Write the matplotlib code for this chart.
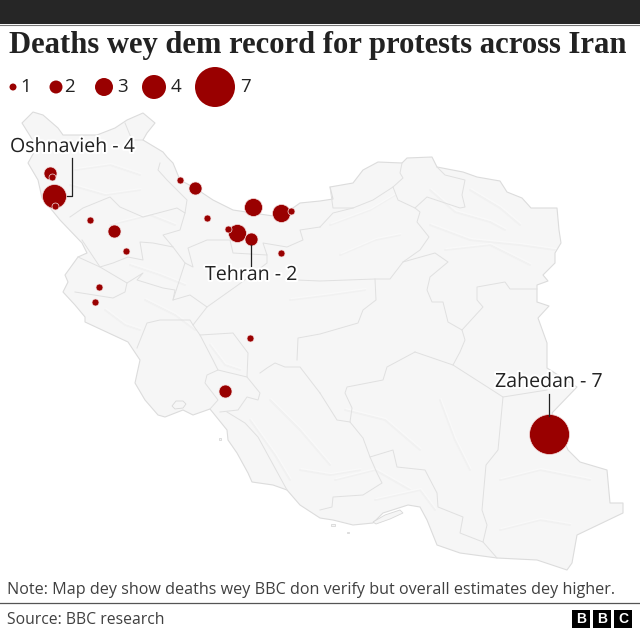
# import library
import matplotlib
matplotlib.use("Agg")
import matplotlib.pyplot as plt
import matplotlib.patheffects as pe
from matplotlib.patches import Polygon, Rectangle

# deaths by location (x, y)
town_x = [549, 54, 50, 253, 281, 237, 251, 195, 114, 225, 52, 55, 90, 126, 99, 95, 180, 291, 207, 228, 281, 250]
town_y = [434, 196, 173, 207, 213, 233, 239, 188, 231, 391, 177, 206, 220, 251, 287, 302, 180, 211, 218, 229, 253, 338]
deaths = [7, 4, 2, 3, 3, 3, 2, 2, 2, 2, 1, 1, 1, 1, 1, 1, 1, 1, 1, 1, 1, 1]

legend_values = [1, 2, 3, 4, 7]
legend_x = [13, 56, 104, 154, 215]
legend_text_x = [20, 64, 117, 171, 240]
radius = {1: 3.5, 2: 6.5, 3: 9, 4: 12, 7: 20}

# country outline
border = [(33, 112), (43, 115), (58, 128), (63, 135), (97, 135), (115, 128), (127, 120), (143, 113),
          (155, 123), (147, 133), (143, 140), (163, 152), (167, 157), (173, 163), (180, 180), (195, 188),
          (213, 200), (233, 210), (253, 213), (280, 217), (300, 203), (320, 201), (333, 199), (330, 187),
          (353, 183), (363, 170), (378, 162), (402, 163), (407, 158), (432, 157), (437, 167), (463, 172),
          (477, 177), (500, 181), (507, 192), (522, 198), (531, 208), (557, 208), (559, 230), (561, 243),
          (555, 253), (555, 263), (543, 275), (548, 281), (537, 285), (537, 302), (549, 306), (538, 318),
          (547, 343), (547, 368), (577, 387), (552, 413), (568, 450), (580, 462), (607, 470), (610, 503),
          (623, 503), (623, 513), (577, 535), (572, 563), (567, 570), (537, 560), (497, 558), (460, 553),
          (437, 545), (427, 520), (420, 507), (408, 505), (383, 513), (373, 523), (353, 525), (333, 520),
          (320, 518), (300, 505), (287, 490), (273, 485), (252, 482), (248, 473), (237, 453), (228, 440),
          (227, 430), (210, 409), (193, 415), (183, 410), (165, 417), (158, 415), (145, 400), (135, 383),
          (140, 360), (128, 342), (85, 322), (85, 317), (75, 305), (63, 292), (68, 282), (65, 275),
          (78, 257), (87, 253), (82, 243), (60, 220), (42, 198), (38, 180), (28, 163), (37, 147), (22, 123)]

# province lines
provinces = [
    [(402, 163), (400, 173), (403, 178), (393, 187), (398, 200), (415, 208), (420, 212), (417, 222), (429, 237),
     (420, 250), (403, 262), (390, 279), (375, 279), (320, 281), (297, 280)],
    [(403, 262), (435, 253), (448, 262), (430, 277), (427, 290), (432, 302), (443, 302), (448, 322), (462, 330),
     (465, 340), (460, 352), (453, 365)],
    [(415, 208), (427, 197), (460, 208), (465, 207), (462, 195), (465, 180), (445, 175), (437, 167)],
    [(462, 330), (483, 307), (477, 300), (477, 287), (505, 282), (510, 289), (537, 289)],
    [(375, 279), (376, 300), (363, 310), (358, 323), (320, 334), (298, 338), (297, 360)],
    [(393, 187), (373, 200), (353, 208), (333, 208), (330, 187)],
    [(320, 227), (333, 213), (353, 208)],
    [(415, 352), (453, 365), (503, 397), (498, 450), (486, 465), (482, 510), (487, 525), (483, 542), (497, 558)],
    [(503, 397), (547, 390)],
    [(415, 352), (387, 367), (383, 380), (347, 387), (345, 393), (352, 408), (350, 422), (363, 438), (370, 457),
     (393, 450), (397, 467), (425, 470), (437, 493), (438, 507), (463, 517), (460, 533), (483, 542)],
    [(320, 393), (337, 420), (350, 422)],
    [(370, 457), (377, 473), (382, 483), (363, 495), (333, 497), (332, 507), (320, 510)],
    [(160, 163), (158, 170), (167, 180), (187, 200), (185, 213), (177, 208), (143, 217), (120, 207), (110, 197),
     (83, 208), (70, 217)],
    [(125, 123), (132, 140), (143, 140)],
    [(82, 240), (100, 267), (113, 263), (128, 257), (143, 260), (140, 242), (153, 243), (173, 247), (163, 235),
     (180, 230), (185, 213)],
    [(78, 257), (100, 267), (127, 283), (125, 292), (113, 298), (75, 292)],
    [(127, 283), (143, 273), (137, 280), (163, 288), (175, 290), (173, 300), (190, 295), (207, 307), (193, 325),
     (190, 320), (160, 320), (147, 323), (137, 348)],
    [(193, 325), (200, 335), (213, 360), (218, 370), (207, 375), (205, 383), (218, 400), (210, 409)],
    [(200, 335), (233, 333), (248, 353), (247, 377), (260, 393), (258, 400), (247, 397), (238, 410), (220, 412)],
    [(218, 370), (247, 377)],
    [(260, 373), (267, 368), (275, 363), (285, 367), (300, 367), (320, 393)],
    [(227, 412), (245, 423), (258, 437), (287, 490)],
    [(173, 247), (185, 263), (193, 267), (188, 248), (207, 240), (230, 240), (233, 253), (267, 255), (263, 243),
     (287, 247), (303, 240), (300, 230), (320, 227)],
    [(173, 300), (185, 263)],
    [(267, 255), (267, 263), (238, 285), (207, 307)],
]

# hillshade ridges, traced by eye
ridges = [
    [(430, 190), (455, 212), (490, 222), (505, 230)],
    [(470, 190), (500, 208), (520, 225)],
    [(430, 225), (470, 240), (520, 245), (555, 250)],
    [(445, 250), (490, 245), (530, 265)],
    [(330, 225), (370, 210), (395, 195)],
    [(340, 255), (375, 240), (400, 235)],
    [(75, 170), (110, 165), (140, 175)],
    [(70, 185), (105, 195), (140, 190)],
    [(110, 225), (150, 215), (175, 225)],
    [(130, 265), (160, 275), (185, 285)],
    [(145, 300), (175, 315), (195, 330)],
    [(105, 310), (125, 325), (140, 330)],
    [(210, 345), (225, 365), (240, 370)],
    [(270, 400), (300, 430), (330, 465)],
    [(300, 470), (330, 475), (360, 470)],
    [(335, 480), (375, 470), (410, 490)],
    [(345, 410), (385, 420), (420, 450)],
    [(440, 400), (455, 440), (470, 470)],
    [(375, 500), (420, 490), (435, 510)],
    [(500, 530), (540, 520), (570, 525)],
    [(500, 480), (540, 470), (590, 480)],
    [(290, 300), (330, 295), (365, 290)],
    [(250, 420), (275, 455), (290, 480)],
]

# islands in the Gulf
islands = [
    [(373, 522), (385, 515), (400, 510), (403, 513), (390, 519), (376, 524)],
    [(172, 406), (176, 401), (183, 401), (186, 404), (183, 408), (175, 409)],
    [(331, 524), (335, 524), (335, 526), (331, 526)],
    [(347, 532), (349, 532), (349, 533), (347, 533)],
    [(219, 438), (221, 438), (221, 440), (219, 440)],
]

# draw in pixel space
fig = plt.figure(figsize=(6.4, 6.34), dpi=100)
ax = fig.add_axes([0, 0, 1, 1])
ax.set_xlim(0, 640)
ax.set_ylim(634, 0)
ax.axis("off")

sans = "Open Sans"
ink = "#222222"
red = "#990000"


def size(values):
    return [(2 * radius[v] * 0.72) ** 2 for v in values]


# top band
ax.add_patch(Rectangle((0, 0), 640, 24, fc="#262626", ec="none"))
ax.plot([0, 640], [24.5, 24.5], color="#777777", lw=0.8)

ax.text(9, 46, "Deaths wey dem record for protests across Iran", family="Liberation Serif", weight="bold",
        fontsize=22.1, color=ink, va="center", ha="left")

# map
ax.add_patch(Polygon(border, closed=True, fc="#f6f6f6", ec="#dcdcdc", lw=0.8, joinstyle="round"))
for line in ridges:
    ax.plot([p[0] for p in line], [p[1] for p in line], color="#f1f1f1", lw=1.4, solid_capstyle="round")
    ax.plot([p[0] + 1 for p in line], [p[1] - 1.5 for p in line], color="#f9f9f9", lw=1.0, solid_capstyle="round")
for line in provinces:
    ax.plot([p[0] for p in line], [p[1] for p in line], color="#e0e0e0", lw=0.7)
for shape in islands:
    ax.add_patch(Polygon(shape, closed=True, fc="#f6f6f6", ec="#d8d8d8", lw=0.6))

# legend
ax.scatter(legend_x, [87] * len(legend_x), s=size(legend_values), color=red, linewidths=0, zorder=5)
for x, v in zip(legend_text_x, legend_values):
    ax.text(x, 87, str(v), family=sans, fontsize=13.5, color=ink, va="center", ha="left")

# leader lines
ax.plot([72, 72, 64], [158, 196, 196], color=ink, lw=0.9, zorder=4)
ax.plot([251, 251], [245, 266], color=ink, lw=0.9, zorder=6)
ax.plot([549, 549], [394, 416], color=ink, lw=0.9, zorder=6)

# bubbles, biggest under smallest
order = sorted(range(len(deaths)), key=lambda i: -deaths[i])
for i in order:
    ax.scatter(town_x[i], town_y[i], s=size([deaths[i]]), color=red, edgecolors="#f5dede", linewidths=0.5, zorder=5)

halo = [pe.withStroke(linewidth=3, foreground="white")]
ax.text(10, 147, "Oshnavieh - 4", family=sans, fontsize=14.1, color=ink, va="center", ha="left", path_effects=halo, zorder=7)
ax.text(205, 275, "Tehran - 2", family=sans, fontsize=14.1, color=ink, va="center", ha="left", path_effects=halo, zorder=7)
ax.text(495, 382, "Zahedan - 7", family=sans, fontsize=14.1, color=ink, va="center", ha="left", path_effects=halo, zorder=7)

# footer
ax.text(7, 590, "Note: Map dey show deaths wey BBC don verify but overall estimates dey higher.", family=sans,
        fontsize=11.6, color="#404040", va="center", ha="left")
ax.plot([0, 640], [603, 603], color="#555555", lw=0.9)
ax.text(7, 620, "Source: BBC research", family=sans, fontsize=11.3, color="#404040", va="center", ha="left")

for x, letter in zip([572, 593, 614], "BBC"):
    ax.add_patch(Rectangle((x, 610), 18, 18, fc="black", ec="none"))
    ax.text(x + 9, 619.3, letter, family="Liberation Sans", weight="bold", fontsize=10, color="white", va="center", ha="center")

fig.savefig("out.png", dpi=100)
